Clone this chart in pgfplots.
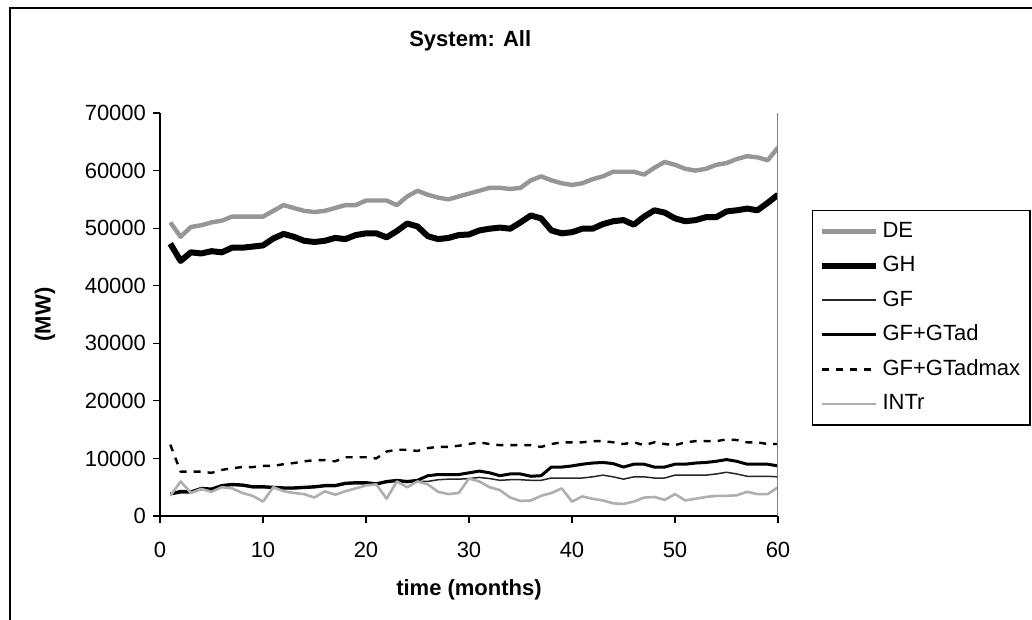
\documentclass[border=0pt]{standalone}
\usepackage{fontspec}
\setmainfont{Liberation Sans}
\usepackage{pgfplots}
\pgfplotsset{compat=1.18}

\definecolor{degray}{RGB}{150,150,150}
\definecolor{intgray}{RGB}{175,175,175}

\begin{document}
\begin{tikzpicture}
\path[use as bounding box] (0,0) rectangle (516bp,310bp);
% chart area frame
\draw[line width=0.6bp] (5bp,-2bp) -- (5bp,306bp) -- (520bp,306bp);
\begin{axis}[
    scale only axis,
    width=309bp, height=201.5bp,
    at={(80bp,52bp)}, anchor=south west,
    xmin=0, xmax=60, ymin=0, ymax=70000,
    xtick={0,10,...,60},
    ytick={0,10000,...,70000},
    scaled y ticks=false,
    /pgf/number format/.cd, set thousands separator={}, assume math mode=true,
    /pgfplots/.cd,
    axis x line*=bottom, axis y line*=left,
    axis line style={line width=0.6bp, -},
    tick align=outside, major tick length=3.5bp,
    tick style={line width=0.6bp, black},
    ticklabel style={font=\fontsize{11bp}{13bp}\selectfont},
    xticklabel style={yshift=-6bp},
    title={\textbf{System: All}},
    title style={at={(axis description cs:0.502,1.149)}, anchor=center, font=\fontsize{11bp}{13bp}\selectfont},
    xlabel={\textbf{time (months)}},
    xlabel style={at={(axis description cs:0.5,-0.184)}, anchor=center, font=\fontsize{11bp}{13bp}\selectfont},
    ylabel={\textbf{(MW)}},
    ylabel style={at={(axis description cs:-0.186,0.5)}, anchor=center, rotate=0, font=\fontsize{11bp}{13bp}\selectfont},
    legend cell align=left,
    legend style={at={(1.055,0.76)}, anchor=north west, draw=black, line width=0.6bp,
        font=\fontsize{11bp}{13bp}\selectfont, row sep=4bp, inner xsep=3bp, inner ysep=4bp},
    legend image code/.code={\draw[#1] (0bp,0bp) -- (27bp,0bp);},
    every axis plot/.append style={line join=round},
]
% DE
\addplot[degray, line width=2.2bp] coordinates {
(1,51000) (2,48500) (3,50200) (4,50500) (5,51000) (6,51300) (7,52000) (8,52000) (9,52000) (10,52000)
(11,53000) (12,54000) (13,53500) (14,53000) (15,52800) (16,53000) (17,53500) (18,54000) (19,54000) (20,54800)
(21,54800) (22,54800) (23,54000) (24,55500) (25,56500) (26,55800) (27,55300) (28,55000) (29,55500) (30,56000)
(31,56500) (32,57000) (33,57000) (34,56800) (35,57000) (36,58300) (37,59000) (38,58300) (39,57800) (40,57500)
(41,57800) (42,58500) (43,59000) (44,59800) (45,59800) (46,59800) (47,59300) (48,60500) (49,61500) (50,61000)
(51,60300) (52,60000) (53,60300) (54,61000) (55,61300) (56,62000) (57,62500) (58,62300) (59,61800) (60,64000)
};
\addlegendentry{DE}
% GH
\addplot[black, line width=3bp] coordinates {
(1,47300) (2,44300) (3,45800) (4,45600) (5,46000) (6,45800) (7,46600) (8,46600) (9,46800) (10,47000)
(11,48200) (12,49000) (13,48500) (14,47800) (15,47600) (16,47800) (17,48300) (18,48100) (19,48800) (20,49100)
(21,49100) (22,48400) (23,49500) (24,50800) (25,50300) (26,48600) (27,48100) (28,48300) (29,48800) (30,48900)
(31,49600) (32,49900) (33,50100) (34,49900) (35,51000) (36,52200) (37,51700) (38,49600) (39,49100) (40,49300)
(41,49900) (42,49900) (43,50700) (44,51200) (45,51400) (46,50600) (47,52000) (48,53100) (49,52700) (50,51700)
(51,51200) (52,51400) (53,51900) (54,51900) (55,52900) (56,53100) (57,53400) (58,53100) (59,54400) (60,55800)
};
\addlegendentry{GH}
% GF
\addplot[black!85, line width=0.75bp] coordinates {
(1,3700) (2,4000) (3,4000) (4,4600) (5,4500) (6,5100) (7,5300) (8,5200) (9,4900) (10,4900)
(11,4800) (12,4700) (13,4700) (14,4800) (15,4900) (16,5100) (17,5100) (18,5500) (19,5600) (20,5600)
(21,5400) (22,5800) (23,6000) (24,5800) (25,6000) (26,6000) (27,6300) (28,6400) (29,6400) (30,6500)
(31,6700) (32,6500) (33,6200) (34,6300) (35,6300) (36,6200) (37,6200) (38,6600) (39,6600) (40,6600)
(41,6600) (42,6800) (43,7100) (44,6800) (45,6400) (46,6800) (47,6800) (48,6600) (49,6600) (50,7100)
(51,7100) (52,7100) (53,7100) (54,7300) (55,7600) (56,7300) (57,6900) (58,6900) (59,6900) (60,6800)
};
\addlegendentry{GF}
% GF+GTad
\addplot[black, line width=1.5bp] coordinates {
(1,3800) (2,4300) (3,4200) (4,4800) (5,4700) (6,5300) (7,5500) (8,5400) (9,5100) (10,5100)
(11,5000) (12,4900) (13,4900) (14,5000) (15,5100) (16,5300) (17,5300) (18,5700) (19,5800) (20,5800)
(21,5600) (22,6000) (23,6200) (24,6000) (25,6200) (26,7000) (27,7200) (28,7200) (29,7200) (30,7500)
(31,7800) (32,7500) (33,7000) (34,7300) (35,7300) (36,6900) (37,7000) (38,8500) (39,8500) (40,8700)
(41,9000) (42,9200) (43,9300) (44,9100) (45,8500) (46,9000) (47,9000) (48,8500) (49,8500) (50,9000)
(51,9000) (52,9200) (53,9300) (54,9500) (55,9800) (56,9500) (57,9000) (58,9000) (59,9000) (60,8700)
};
\addlegendentry{GF+GTad}
% GF+GTadmax
\addplot[black, line width=1.2bp, dash pattern=on 3.5bp off 3.5bp] coordinates {
(1,12400) (2,7700) (3,7700) (4,7700) (5,7500) (6,8000) (7,8300) (8,8500) (9,8500) (10,8700)
(11,8700) (12,9000) (13,9200) (14,9500) (15,9700) (16,9700) (17,9500) (18,10200) (19,10200) (20,10200)
(21,10000) (22,11200) (23,11500) (24,11500) (25,11300) (26,11800) (27,12000) (28,12000) (29,12200) (30,12500)
(31,12800) (32,12500) (33,12300) (34,12300) (35,12300) (36,12300) (37,12000) (38,12500) (39,12800) (40,12800)
(41,12800) (42,13000) (43,13000) (44,12800) (45,12500) (46,12800) (47,12300) (48,12800) (49,12500) (50,12300)
(51,12800) (52,13000) (53,13000) (54,13000) (55,13300) (56,13200) (57,12800) (58,12800) (59,12500) (60,12500)
};
\addlegendentry{GF+GTadmax}
% INTr
\addplot[intgray, line width=1.3bp] coordinates {
(1,3500) (2,6000) (3,4000) (4,4700) (5,4200) (6,5000) (7,4800) (8,4000) (9,3500) (10,2500)
(11,5000) (12,4300) (13,4000) (14,3800) (15,3200) (16,4300) (17,3700) (18,4300) (19,4800) (20,5300)
(21,5500) (22,3000) (23,6000) (24,5000) (25,6000) (26,5500) (27,4200) (28,3800) (29,4000) (30,6500)
(31,6000) (32,5000) (33,4500) (34,3200) (35,2600) (36,2700) (37,3500) (38,4000) (39,4800) (40,2500)
(41,3400) (42,3000) (43,2700) (44,2200) (45,2100) (46,2500) (47,3200) (48,3300) (49,2800) (50,3800)
(51,2700) (52,3000) (53,3300) (54,3500) (55,3500) (56,3600) (57,4200) (58,3800) (59,3800) (60,5000)
};
\addlegendentry{INTr}
\draw[gray, line width=0.6bp] (rel axis cs:1,0) -- (rel axis cs:1,1);
\end{axis}
\end{tikzpicture}
\end{document}
